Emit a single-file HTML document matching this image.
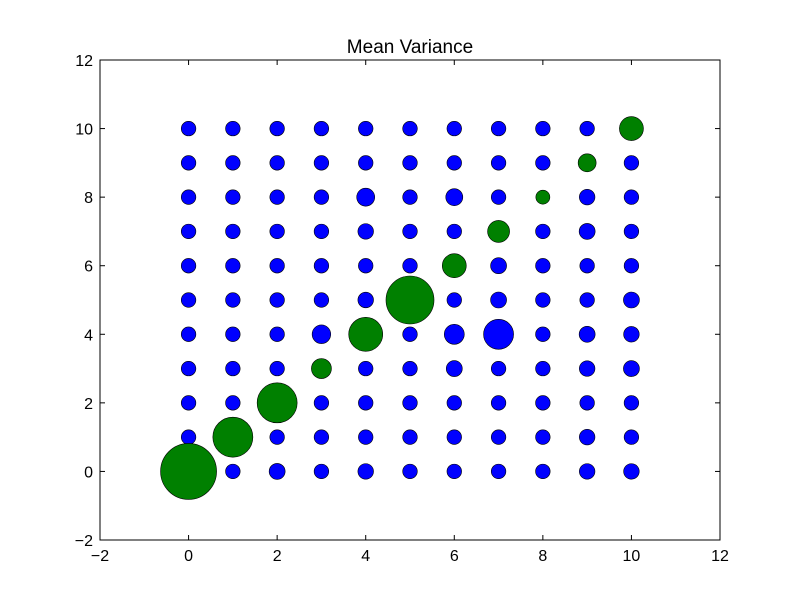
<!DOCTYPE html>
<html><head><meta charset="utf-8"><style>
body{margin:0;background:#fff}
text{font-family:"Liberation Sans","DejaVu Sans",sans-serif}
</style></head><body>
<svg id="c" width="800" height="600" xmlns="http://www.w3.org/2000/svg">
<rect width="800" height="600" fill="#fff"/>
<text x="410" y="53" font-size="19" text-anchor="middle">Mean Variance</text>
<g id="marks"></g>
<rect x="100" y="60" width="620" height="480" fill="none" stroke="#000" stroke-width="1"/>
<g id="ticks"></g>
</svg>
<script>
const xTicks=[-2,0,2,4,6,8,10,12];
const yTicks=[-2,0,2,4,6,8,10,12];
const gridX=[0,1,2,3,4,5,6,7,8,9,10];
const gridY=[0,1,2,3,4,5,6,7,8,9,10];
// blue marker radii, rows = y 0..10, cols = x 0..10
const blueR=[
[7.3,7.3,8,7.3,7.8,7.3,7.3,7.3,7.3,7.8,7.8],
[7.3,7.3,7.3,7.3,7.3,7.3,7.3,7.3,7.3,7.8,7.3],
[7.3,7.3,7.3,7.3,7.3,7.3,7.3,7.3,7.3,7.3,7.3],
[7.3,7.3,7.3,7.3,7.3,7.3,8,7.3,7.3,7.8,8],
[7.3,7.3,7.3,9.3,7.3,7.3,10,15,7.3,8,7.8],
[7.3,7.3,7.3,7.3,7.8,7.3,7.3,8,7.3,7.3,8],
[7.3,7.3,7.3,7.3,7.3,7.3,7.3,8,7.3,7.3,7.3],
[7.3,7.3,7.3,7.3,7.8,7.3,7.3,7.3,7.3,8,7.3],
[7.3,7.3,7.3,7.3,9,7.3,8.5,7.3,7.3,7.8,7.3],
[7.3,7.3,7.3,7.3,7.3,7.3,7.3,7.3,7.3,7.3,7.3],
[7.3,7.3,7.3,7.3,7.3,7.3,7.3,7.3,7.3,7.3,7.3]];
const greenR=[28,20,20,10,17,24,12,11,7,9,12];
const X=v=>100+(v+2)*620/14, Y=v=>540-(v+2)*480/14;
const NS="http://www.w3.org/2000/svg";
const m=document.getElementById('marks'), t=document.getElementById('ticks');
function circ(cx,cy,r,f){const c=document.createElementNS(NS,'circle');c.setAttribute('cx',cx);c.setAttribute('cy',cy);c.setAttribute('r',r);c.setAttribute('fill',f);c.setAttribute('stroke','#000');c.setAttribute('stroke-width','0.6');m.appendChild(c);return c;}
gridY.forEach((yv,i)=>gridX.forEach((xv,j)=>{if(i===j)return;
const c=circ(X(xv),Y(yv),blueR[i][j],'#0000ff');

}));
greenR.forEach((r,i)=>{const c=circ(X(gridX[i]),Y(gridY[i]),r,'#008000');

});
function line(x1,y1,x2,y2){const l=document.createElementNS(NS,'line');l.setAttribute('x1',x1);l.setAttribute('y1',y1);l.setAttribute('x2',x2);l.setAttribute('y2',y2);l.setAttribute('stroke','#000');t.appendChild(l);}
function txt(x,y,s,a){const e=document.createElementNS(NS,'text');e.setAttribute('x',x);e.setAttribute('y',y);e.setAttribute('font-size','16');e.setAttribute('text-anchor',a);e.textContent=s;t.appendChild(e);return e;}
xTicks.forEach(v=>{const x=X(v);line(x,540,x,535);line(x,60,x,65);
const e=txt(x,561,v<0?'\u2212'+(-v):String(v),'middle');

});
yTicks.forEach(v=>{const y=Y(v);line(100,y,105,y);line(720,y,715,y);
const e=txt(93,y+6,v<0?'\u2212'+(-v):String(v),'end');

});
</script>
</body></html>
